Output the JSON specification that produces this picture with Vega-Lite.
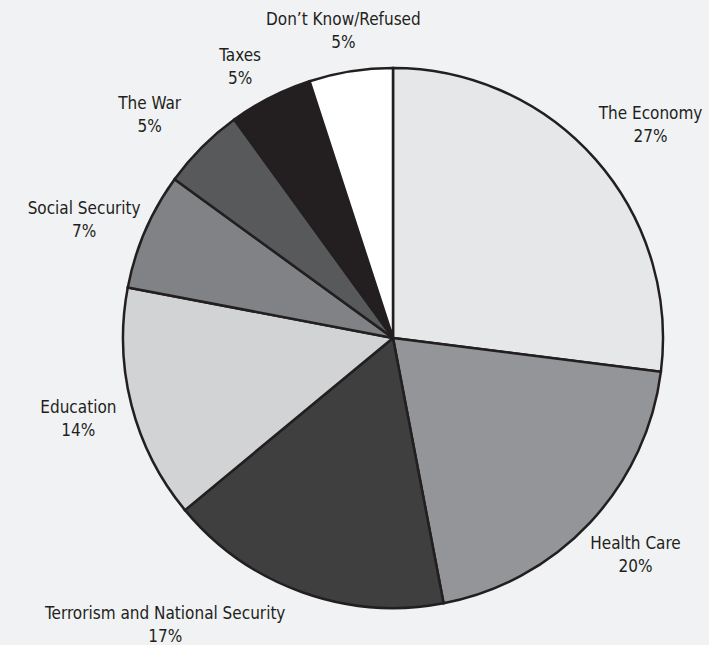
{
  "$schema": "https://vega.github.io/schema/vega-lite/v6.json",
  "width": 600,
  "height": 600,
  "autosize": "none",
  "padding": {"left": 93, "top": 38, "right": 16, "bottom": 7},
  "background": "#f1f2f4",
  "view": {"stroke": null},
  "data": {
    "values": [
      {"issue": "The Economy", "pct": 27, "order": 1},
      {"issue": "Health Care", "pct": 20, "order": 2},
      {"issue": "Terrorism and National Security", "pct": 17, "order": 3},
      {"issue": "Education", "pct": 14, "order": 4},
      {"issue": "Social Security", "pct": 7, "order": 5},
      {"issue": "The War", "pct": 5, "order": 6},
      {"issue": "Taxes", "pct": 5, "order": 7},
      {"issue": "Don’t Know/Refused", "pct": 5, "order": 8}
    ]
  },
  "transform": [
    {"stack": "pct", "groupby": [], "sort": [{"field": "order"}], "as": ["s0", "s1"]},
    {"calculate": "(datum.s0 + datum.s1) / 2", "as": "mid"},
    {"calculate": "[datum.issue, datum.pct + '%']", "as": "label"}
  ],
  "encoding": {
    "text": {"field": "label"}
  },
  "layer": [
    {
      "mark": {"type": "arc", "radius": 270, "stroke": "#231f20", "strokeWidth": 2.5},
      "encoding": {
        "theta": {"field": "pct", "type": "quantitative", "stack": true, "scale": {"domain": [0, 100]}},
        "order": {"field": "order", "type": "quantitative", "sort": "ascending"},
        "color": {
          "field": "issue",
          "type": "nominal",
          "legend": null,
          "scale": {
            "domain": ["The Economy", "Health Care", "Terrorism and National Security", "Education", "Social Security", "The War", "Taxes", "Don’t Know/Refused"],
            "range": ["#e6e7e8", "#939598", "#3f3f40", "#d1d3d4", "#808285", "#58595b", "#231f20", "#ffffff"]
          }
        },
        "text": null
      }
    },
    {
      "transform": [{"filter": "datum.issue === 'The Economy'"}],
      "mark": {"type": "text", "radius": 330, "dx": 10, "dy": -6, "font": "DejaVu Sans Condensed", "fontSize": 17, "lineHeight": 23, "color": "#231f20", "align": "center", "baseline": "middle"},
      "encoding": {"theta": {"field": "mid", "type": "quantitative", "stack": null}}
    },
    {
      "transform": [{"filter": "datum.issue === 'Health Care'"}],
      "mark": {"type": "text", "radius": 330, "dx": 2, "dy": -20, "font": "DejaVu Sans Condensed", "fontSize": 17, "lineHeight": 23, "color": "#231f20", "align": "center", "baseline": "middle"},
      "encoding": {"theta": {"field": "mid", "type": "quantitative", "stack": null}}
    },
    {
      "transform": [{"filter": "datum.issue === 'Terrorism and National Security'"}],
      "mark": {"type": "text", "radius": 330, "dx": -116, "dy": -34, "font": "DejaVu Sans Condensed", "fontSize": 17, "lineHeight": 23, "color": "#231f20", "align": "center", "baseline": "middle"},
      "encoding": {"theta": {"field": "mid", "type": "quantitative", "stack": null}}
    },
    {
      "transform": [{"filter": "datum.issue === 'Education'"}],
      "mark": {"type": "text", "radius": 330, "dx": 5, "dy": -12, "font": "DejaVu Sans Condensed", "fontSize": 17, "lineHeight": 23, "color": "#231f20", "align": "center", "baseline": "middle"},
      "encoding": {"theta": {"field": "mid", "type": "quantitative", "stack": null}}
    },
    {
      "transform": [{"filter": "datum.issue === 'Social Security'"}],
      "mark": {"type": "text", "radius": 330, "dx": -6, "dy": 2, "font": "DejaVu Sans Condensed", "fontSize": 17, "lineHeight": 23, "color": "#231f20", "align": "center", "baseline": "middle"},
      "encoding": {"theta": {"field": "mid", "type": "quantitative", "stack": null}}
    },
    {
      "transform": [{"filter": "datum.issue === 'The War'"}],
      "mark": {"type": "text", "radius": 330, "dx": -10, "dy": -1, "font": "DejaVu Sans Condensed", "fontSize": 17, "lineHeight": 23, "color": "#231f20", "align": "center", "baseline": "middle"},
      "encoding": {"theta": {"field": "mid", "type": "quantitative", "stack": null}}
    },
    {
      "transform": [{"filter": "datum.issue === 'Taxes'"}],
      "mark": {"type": "text", "radius": 330, "dx": -3, "dy": 12, "font": "DejaVu Sans Condensed", "fontSize": 17, "lineHeight": 23, "color": "#231f20", "align": "center", "baseline": "middle"},
      "encoding": {"theta": {"field": "mid", "type": "quantitative", "stack": null}}
    },
    {
      "transform": [{"filter": "datum.issue === 'Don’t Know/Refused'"}],
      "mark": {"type": "text", "radius": 330, "dx": 2, "dy": 8, "font": "DejaVu Sans Condensed", "fontSize": 17, "lineHeight": 23, "color": "#231f20", "align": "center", "baseline": "middle"},
      "encoding": {"theta": {"field": "mid", "type": "quantitative", "stack": null}}
    }
  ]
}
